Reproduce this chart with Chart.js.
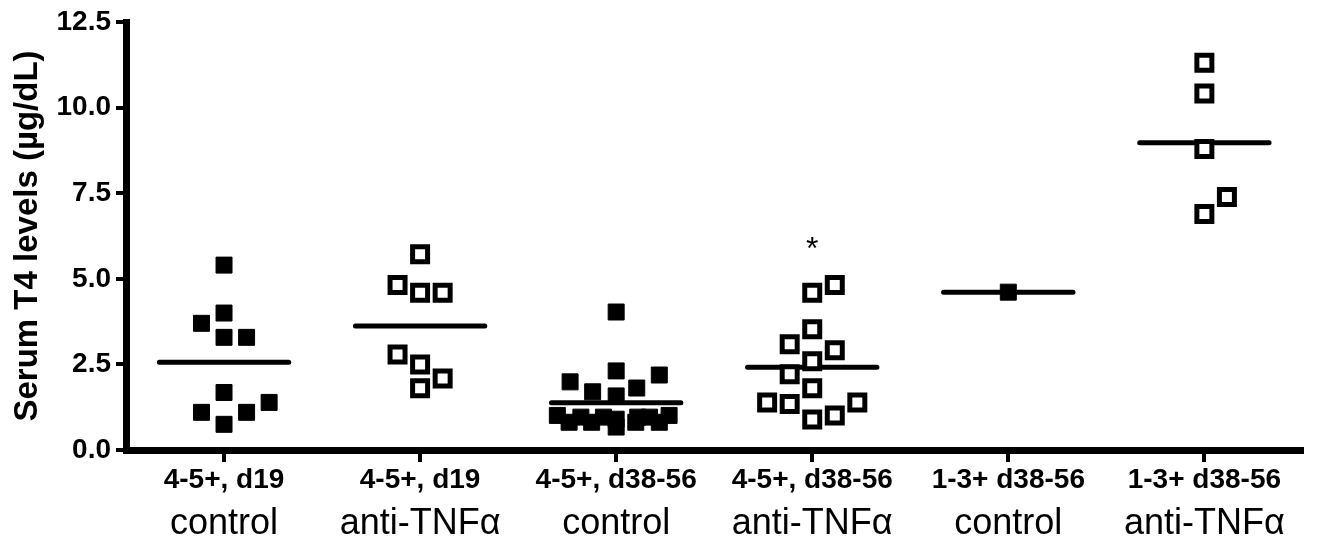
<!DOCTYPE html>
<html>
<head>
<meta charset="utf-8">
<title>Serum T4 levels</title>
<script src="https://cdn.jsdelivr.net/npm/chart.js@4.4.1/dist/chart.umd.min.js"></script>
<style>
  html, body { margin: 0; padding: 0; background: #fff; }
  #wrap { width: 1318px; height: 546px; }
</style>
</head>
<body>
<div id="wrap"><canvas id="t4Chart" width="1318" height="546"></canvas></div>
<script>
// x labels: first line (bold) and second line (treatment)
const groupLabels = ['4-5+, d19', '4-5+, d19', '4-5+, d38-56', '4-5+, d38-56', '1-3+ d38-56', '1-3+ d38-56'];
const treatLabels = ['control', 'anti-TNF\u03b1', 'control', 'anti-TNF\u03b1', 'control', 'anti-TNF\u03b1'];
const yTicks = [0, 2.5, 5, 7.5, 10, 12.5];

// individual animals (x = group position incl. scatter offset, y = ug/dL)
const ctrlD19X = [1, 1, 0.885, 1, 1.115, 1, 1.23, 0.885, 1.115, 1];
const ctrlD19Y = [5.40, 4.00, 3.70, 3.29, 3.29, 1.68, 1.39, 1.10, 1.10, 0.75];
const antiD19X = [2, 1.885, 2, 2.115, 1.885, 2, 2.115, 2];
const antiD19Y = [5.72, 4.82, 4.59, 4.59, 2.79, 2.50, 2.09, 1.80];
const ctrlD38X = [3, 3, 2.765, 3.22, 2.88, 3.105, 3,
  2.7, 2.82, 2.935, 3, 3.11, 3.17, 3.27, 2.76, 2.875, 3.1, 3.22, 3];
const ctrlD38Y = [4.03, 2.31, 1.99, 2.19, 1.70, 1.81, 1.58,
  1.01, 0.96, 0.96, 0.67, 0.96, 0.96, 1.01, 0.81, 0.81, 0.81, 0.81, 0.90];
const antiD38X = [4.115, 4, 4, 3.885, 4.115, 4, 3.885, 4, 3.77, 3.885, 4.23, 4.115, 4];
const antiD38Y = [4.82, 4.59, 3.53, 3.09, 2.91, 2.59, 2.21, 1.80, 1.39, 1.34, 1.39, 1.01, 0.89];
const ctrlLowX = [5];
const ctrlLowY = [4.61];
const antiLowX = [6, 6, 6, 6.115, 6];
const antiLowY = [11.31, 10.41, 8.79, 7.39, 6.89];

// group means (horizontal bars)
const groupMeans = [2.56, 3.62, 1.38, 2.42, 4.61, 8.97];
// significance marks: [group, y, text]
const sigMarks = [[4, 6.05, '*']];

const FONT = "'Liberation Sans', Arial, sans-serif";
const meanHalf = 0.33;

function pts(xs, ys) {
  return xs.map((x, i) => ({ x: x, y: ys[i] }));
}

const filled = {
  pointStyle: 'rect', pointRadius: 11.3, pointHoverRadius: 11.3,
  backgroundColor: '#000', borderColor: '#000', borderWidth: 1,
  showLine: false, order: 0
};
const open = {
  pointStyle: 'rect', pointRadius: 10.6, pointHoverRadius: 10.6,
  backgroundColor: '#fff', borderColor: '#000', borderWidth: 5,
  showLine: false, order: 0
};

// mean bars as one line dataset with gaps
const meanData = [];
groupMeans.forEach((m, i) => {
  meanData.push({ x: i + 1 - meanHalf, y: m });
  meanData.push({ x: i + 1 + meanHalf, y: m });
  meanData.push({ x: i + 1 + 0.5, y: null });
});

const sigPlugin = {
  id: 'sigPlugin',
  afterDatasetsDraw(chart) {
    const ctx = chart.ctx;
    const xs = chart.scales.x, ys = chart.scales.y;
    ctx.save();
    ctx.fillStyle = '#000';
    ctx.font = '32px ' + FONT;
    ctx.textAlign = 'center';
    ctx.textBaseline = 'middle';
    sigMarks.forEach(s => {
      ctx.fillText(s[2], xs.getPixelForValue(s[0]), ys.getPixelForValue(s[1]) + 7);
    });
    ctx.restore();
  }
};

const catTicks = (axis) => {
  axis.ticks = groupLabels.map((_, i) => ({ value: i + 1 }));
};

new Chart(document.getElementById('t4Chart'), {
  type: 'scatter',
  data: {
    datasets: [
      Object.assign({ data: pts(ctrlD19X, ctrlD19Y) }, filled),
      Object.assign({ data: pts(antiD19X, antiD19Y) }, open),
      Object.assign({ data: pts(ctrlD38X, ctrlD38Y) }, filled),
      Object.assign({ data: pts(antiD38X, antiD38Y) }, open),
      Object.assign({ data: pts(ctrlLowX, ctrlLowY) }, filled),
      Object.assign({ data: pts(antiLowX, antiLowY) }, open),
      {
        type: 'line', data: meanData, showLine: true, spanGaps: false,
        borderColor: '#000', borderWidth: 5, borderCapStyle: 'round',
        pointRadius: 0, pointHoverRadius: 0, fill: false, order: 10
      }
    ]
  },
  options: {
    responsive: false,
    animation: false,
    devicePixelRatio: 1,
    layout: { padding: { left: 0, top: 22, right: 8, bottom: 0 } },
    plugins: { legend: { display: false }, tooltip: { enabled: false } },
    scales: {
      x: {
        type: 'linear', position: 'bottom', min: 0.5, max: 6.5, weight: 0,
        afterBuildTicks: catTicks,
        afterFit: (s) => { s.height = 44; },
        border: { display: true, color: '#000', width: 7 },
        grid: { display: true, drawOnChartArea: false, color: '#000', lineWidth: 4, tickLength: 12 },
        ticks: {
          autoSkip: false, maxRotation: 0, padding: 1, color: '#000',
          font: { family: FONT, size: 28, weight: 'bold' },
          callback: (v) => groupLabels[Math.round(v) - 1]
        }
      },
      x2: {
        type: 'linear', position: 'bottom', min: 0.5, max: 6.5, weight: 1,
        afterBuildTicks: catTicks,
        afterFit: (s) => { s.height = 52; },
        border: { display: false },
        grid: { display: false, drawTicks: false },
        ticks: {
          autoSkip: false, maxRotation: 0, padding: 8, color: '#000',
          font: { family: FONT, size: 36 },
          callback: (v) => treatLabels[Math.round(v) - 1]
        }
      },
      y: {
        min: 0, max: 12.5,
        afterBuildTicks: (axis) => { axis.ticks = yTicks.map(v => ({ value: v })); },
        afterFit: (s) => { s.width = 126; },
        border: { display: true, color: '#000', width: 7 },
        grid: { display: true, drawOnChartArea: false, color: '#000', lineWidth: 4, tickLength: 10 },
        ticks: {
          padding: 5, color: '#000',
          font: { family: FONT, size: 28, weight: 'bold' },
          callback: (v) => v.toFixed(1)
        },
        title: {
          display: true, text: 'Serum T4 levels (\u00b5g/dL)', color: '#000',
          padding: { top: 8, bottom: 0 },
          font: { family: FONT, size: 33, weight: 'bold' }
        }
      }
    }
  },
  plugins: [sigPlugin]
});
</script>
</body>
</html>
